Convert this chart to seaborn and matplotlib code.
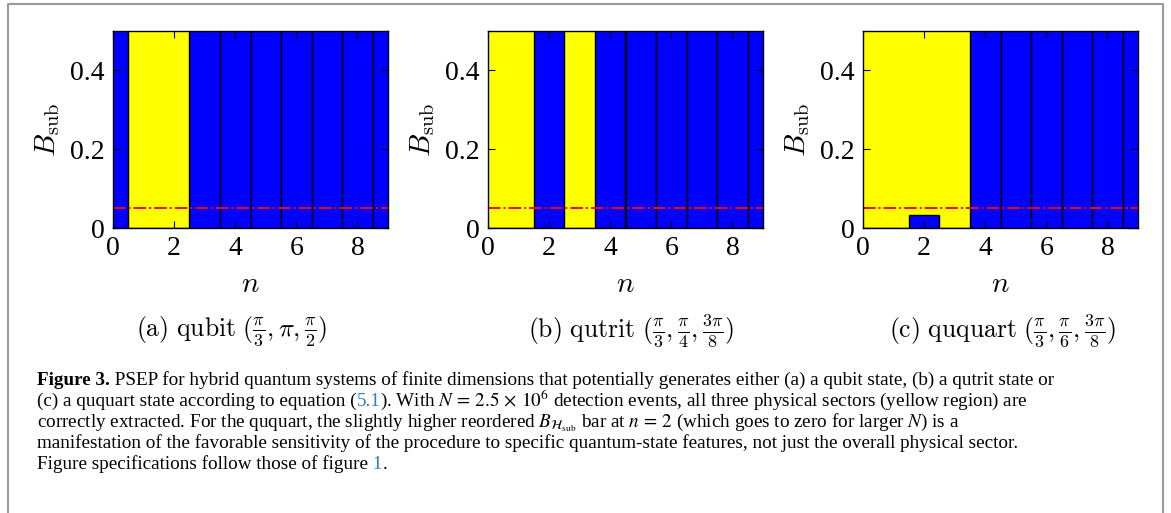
import matplotlib
matplotlib.use("Agg")
import matplotlib.pyplot as plt
from matplotlib.lines import Line2D
import seaborn as sns

# data (bars above 0.5 are clipped by the axes)
n = [0, 1, 2, 3, 4, 5, 6, 7, 8, 9]
b_qubit = [1.0, 0.0, 0.0, 1.0, 1.0, 1.0, 1.0, 1.0, 1.0, 1.0]
b_qutrit = [0.0, 0.0, 1.0, 0.0, 1.0, 1.0, 1.0, 1.0, 1.0, 1.0]
b_ququart = [0.0, 0.0, 0.033, 0.0, 1.0, 1.0, 1.0, 1.0, 1.0, 1.0]
sector_qubit = [1, 2]
sector_qutrit = [0, 1, 3]
sector_ququart = [0, 1, 2, 3]
threshold = 0.05
subcaps = [r"$\mathrm{(a)\ qubit}\ (\frac{\pi}{3}, \pi, \frac{\pi}{2})$",
           r"$\mathrm{(b)\ qutrit}\ (\frac{\pi}{3}, \frac{\pi}{4}, \frac{3\pi}{8})$",
           r"$\mathrm{(c)\ ququart}\ (\frac{\pi}{3}, \frac{\pi}{6}, \frac{3\pi}{8})$"]
yticks = [0, 0.2, 0.4]
yticklabels = ["0", "0.2", "0.4"]
xticks = [0, 2, 4, 6, 8]

W, H = 1171, 513
plt.rcParams["font.family"] = ["Liberation Serif", "DejaVu Serif"]
plt.rcParams["mathtext.fontset"] = "cm"

fig = plt.figure(figsize=(W / 100, H / 100), dpi=100)

panels = [(b_qubit, sector_qubit, 113, 232),
          (b_qutrit, sector_qutrit, 488, 631),
          (b_ququart, sector_ququart, 863, 1002)]

for i, (vals, sector, left, capx) in enumerate(panels):
    ax = fig.add_axes([left / W, 1 - 228 / H, 275 / W, 197 / H])
    # yellow = physical sector, merged into contiguous runs
    runs = []
    for k in sector:
        if runs and runs[-1][1] == k - 1:
            runs[-1][1] = k
        else:
            runs.append([k, k])
    for a, b in runs:
        ax.axvspan(a - 0.5, b + 0.5, color="#ffff00", lw=0, zorder=0)
    sns.barplot(x=n, y=vals, native_scale=True, width=1, color="#0000ff",
                saturation=1, edgecolor="black", linewidth=1.0, ax=ax, zorder=1)
    ax.axhline(threshold, color="red", ls="-.", lw=1.4, zorder=3)
    ax.set_xlim(0, 9)
    ax.set_ylim(0, 0.5)
    ax.set_xticks(xticks)
    ax.set_xticklabels([str(t) for t in xticks])
    ax.set_yticks(yticks)
    ax.set_yticklabels(yticklabels)
    ax.tick_params(direction="in", top=True, right=True, length=5, width=0.8,
                   labelsize=20, pad=6)
    for sp in ax.spines.values():
        sp.set_linewidth(1.0)
        sp.set_zorder(4)
    ax.set_xlabel(r"$n$", fontsize=21, labelpad=8)
    ax.set_ylabel(r"$B_{\rm sub}$", fontsize=21, labelpad=6)
    fig.text(capx / W, 1 - 331 / H, subcaps[i], fontsize=18.5, ha="center", va="center")

# caption below the panels
link = "#2f7fbf"
cap_lines = [
    [("Figure 3.", {"weight": "bold"}),
     (" PSEP for hybrid quantum systems of finite dimensions that potentially generates either (a) a qubit state, (b) a qutrit state or", {})],
    [("(c) a ququart state according to equation (", {}), ("5.1", {"color": link}),
     (r"). With $N\,=\,2.5\,\times\,10^6$ detection events, all three physical sectors (yellow region) are", {})],
    [(r"correctly extracted. For the ququart, the slightly higher reordered $B_{\mathcal{H}_{\rm sub}}$ bar at $n\,=\,2$ (which goes to zero for larger $N$) is a", {})],
    [("manifestation of the favorable sensitivity of the procedure to specific quantum-state features, not just the overall physical sector.", {})],
    [("Figure specifications follow those of figure", {}), (" 1", {"color": link}), (".", {})],
]
renderer = fig.canvas.get_renderer()
cap_size = 13.8


def put_line(y_px, runs, size):
    x = 37
    for s, kw in runs:
        t = fig.text(x / W, 1 - y_px / H, s, fontsize=size, va="baseline",
                     math_fontfamily="stix", **kw)
        x = t.get_window_extent(renderer).x1


for j, line in enumerate(cap_lines):
    put_line(385 + 21 * j, line, cap_size)

# frame around the figure
fig.add_artist(Line2D([8 / W, 8 / W, 1163 / W, 1163 / W], [0, 1 - 4 / H, 1 - 4 / H, 0],
                      transform=fig.transFigure, color="#9a9a9a", lw=1.5))

fig.savefig("out.png", dpi=100)
